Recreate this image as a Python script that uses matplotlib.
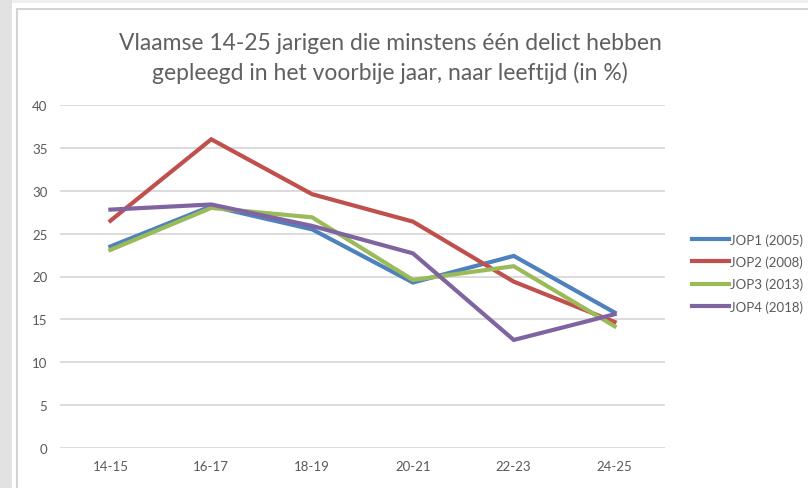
import matplotlib.pyplot as plt
from matplotlib.patches import Rectangle

plt.rcParams['font.family'] = ['Lato', 'DejaVu Sans']

leeftijd = ['14-15', '16-17', '18-19', '20-21', '22-23', '24-25']
jop1 = [23.5, 28.2, 25.5, 19.3, 22.4, 15.8]
jop2 = [26.5, 36.0, 29.6, 26.4, 19.4, 14.7]
jop3 = [23.1, 28.0, 26.9, 19.6, 21.2, 14.2]
jop4 = [27.8, 28.4, 25.9, 22.7, 12.6, 15.6]
reeksen = ['JOP1 (2005)', 'JOP2 (2008)', 'JOP3 (2013)', 'JOP4 (2018)']
kleuren = ['#4F81BD', '#C0504D', '#9BBB59', '#8064A2']

W, H = 808, 489
fig = plt.figure(figsize=(W / 100, H / 100), dpi=100, facecolor='#efefef')

# achtergrond / kader in pixels
bg = fig.add_axes([0, 0, 1, 1], zorder=-10)
bg.set_xlim(0, W)
bg.set_ylim(H, 0)
bg.axis('off')
bg.add_patch(Rectangle((0, 0), 12, H, facecolor='#e2e2e2', edgecolor='none'))
bg.add_patch(Rectangle((12, 4), W, H, facecolor='white', edgecolor='none'))
bg.add_patch(Rectangle((16.5, 10), W, H, facecolor='white', edgecolor='#d4d4d4', lw=1.5))

ax = fig.add_axes([60 / W, 40 / H, 605 / W, 343 / H])
ax.set_facecolor('none')

x = range(len(leeftijd))
for data, naam, kleur in zip([jop1, jop2, jop3, jop4], reeksen, kleuren):
    ax.plot(x, data, color=kleur, lw=3, label=naam, solid_joinstyle='miter', zorder=3)

ax.set_xlim(-0.5, 5.5)
ax.set_ylim(0, 40)
ax.set_yticks(range(0, 41, 5))
ax.set_xticks(list(x))
ax.set_xticklabels(leeftijd)
ax.grid(axis='y', color='#d9d9d9', lw=1.3)
ax.set_axisbelow(True)
for s in ax.spines.values():
    s.set_visible(False)
ax.tick_params(length=0, colors='#595959', labelsize=9.5)
ax.tick_params(axis='y', pad=9)
ax.tick_params(axis='x', pad=9)

fig.text(390 / W, (H - 43) / H, 'Vlaamse 14-25 jarigen die minstens één delict hebben',
         ha='center', va='center', fontsize=16.5, color='#606060')
fig.text(390 / W, (H - 73) / H, 'gepleegd in het voorbije jaar, naar leeftijd (in %)',
         ha='center', va='center', fontsize=16.5, color='#606060')

fig.legend(loc='center left', bbox_to_anchor=(680 / W, (H - 274) / H), frameon=False,
           fontsize=9.5, labelcolor='#595959', handlelength=2.8, handletextpad=0.1,
           labelspacing=0.75)

fig.savefig('out.png', dpi=100, facecolor=fig.get_facecolor())
